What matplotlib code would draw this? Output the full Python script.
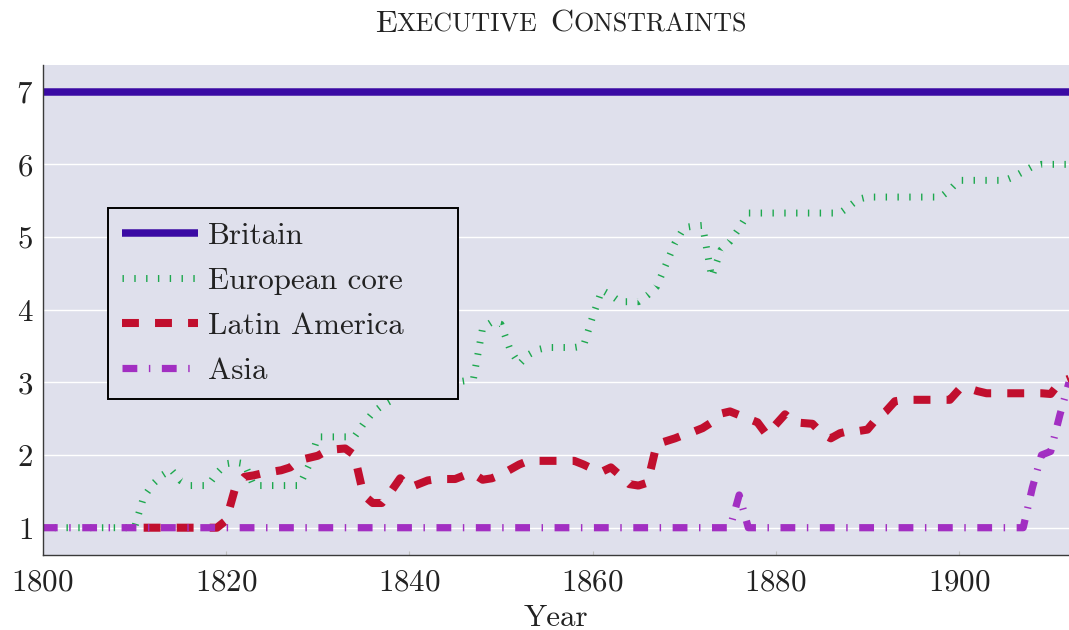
import matplotlib
matplotlib.use("Agg")
import matplotlib.pyplot as plt
from matplotlib.offsetbox import TextArea, HPacker, AnchoredOffsetbox, DrawingArea

plt.rcParams["font.family"] = ["cmr10", "DejaVu Serif"]
plt.rcParams["mathtext.fontset"] = "cm"
plt.rcParams["axes.formatter.use_mathtext"] = True

# ---------------- data ----------------
years = list(range(1800, 1913))

britain = [7.0] * len(years)

european_core = [
    1.0, 1.0, 1.0, 1.0, 1.0, 1.0, 1.0, 1.0, 1.0, 1.0,            # 1800-1809
    1.0, 1.42, 1.6, 1.72, 1.8, 1.65, 1.58, 1.58, 1.58, 1.75,     # 1810-1819
    1.88, 1.9, 1.88, 1.58, 1.58, 1.58, 1.58, 1.58, 1.58, 1.85,   # 1820-1829
    2.25, 2.25, 2.25, 2.25, 2.25, 2.43, 2.58, 2.68, 2.75, 2.85,  # 1830-1839
    3.0, 3.0, 3.0, 3.0, 3.0, 3.0, 3.02, 3.05, 3.75, 3.83,        # 1840-1849
    3.8, 3.45, 3.25, 3.38, 3.45, 3.48, 3.48, 3.48, 3.48, 3.5,    # 1850-1859
    3.9, 4.27, 4.2, 4.11, 4.11, 4.11, 4.2, 4.32, 4.62, 4.92,     # 1860-1869
    5.13, 5.15, 5.16, 4.45, 4.82, 4.94, 5.12, 5.33, 5.33, 5.33,  # 1870-1879
    5.33, 5.33, 5.33, 5.33, 5.33, 5.33, 5.33, 5.33, 5.42, 5.52,  # 1880-1889
    5.55, 5.55, 5.55, 5.55, 5.55, 5.55, 5.55, 5.55, 5.55, 5.65,  # 1890-1899
    5.78, 5.78, 5.78, 5.78, 5.78, 5.78, 5.83, 5.9, 5.97, 6.0,    # 1900-1909
    6.0, 6.0, 6.0,                                               # 1910-1912
]

latin_years = list(range(1811, 1913))
latin_america = [
    1.0, 1.0, 1.0, 1.0, 1.0, 1.0, 1.0, 1.0, 1.0,                 # 1811-1819
    1.1, 1.55, 1.7, 1.72, 1.75, 1.77, 1.79, 1.83, 1.93, 1.96,    # 1820-1829
    1.99, 2.06, 2.08, 2.09, 2.0, 1.45, 1.34, 1.34, 1.5, 1.68,    # 1830-1839
    1.55, 1.6, 1.65, 1.67, 1.67, 1.67, 1.72, 1.74, 1.66, 1.68,   # 1840-1849
    1.73, 1.8, 1.87, 1.92, 1.92, 1.92, 1.92, 1.92, 1.92, 1.87,   # 1850-1859
    1.81, 1.77, 1.83, 1.72, 1.6, 1.58, 1.62, 2.15, 2.19, 2.23,   # 1860-1869
    2.28, 2.32, 2.37, 2.45, 2.57, 2.6, 2.55, 2.5, 2.45, 2.28,    # 1870-1879
    2.42, 2.56, 2.45, 2.44, 2.43, 2.3, 2.23, 2.3, 2.33, 2.33,    # 1880-1889
    2.35, 2.5, 2.6, 2.74, 2.76, 2.76, 2.76, 2.76, 2.76, 2.76,    # 1890-1899
    2.9, 2.92, 2.88, 2.85, 2.85, 2.85, 2.85, 2.85, 2.85, 2.85,   # 1900-1909
    2.84, 3.0, 3.05,                                             # 1910-1912
]

asia = [
    1.0, 1.0, 1.0, 1.0, 1.0, 1.0, 1.0, 1.0, 1.0, 1.0,   # 1800-1809
    1.0, 1.0, 1.0, 1.0, 1.0, 1.0, 1.0, 1.0, 1.0, 1.0,   # 1810-1819
    1.0, 1.0, 1.0, 1.0, 1.0, 1.0, 1.0, 1.0, 1.0, 1.0,   # 1820-1829
    1.0, 1.0, 1.0, 1.0, 1.0, 1.0, 1.0, 1.0, 1.0, 1.0,   # 1830-1839
    1.0, 1.0, 1.0, 1.0, 1.0, 1.0, 1.0, 1.0, 1.0, 1.0,   # 1840-1849
    1.0, 1.0, 1.0, 1.0, 1.0, 1.0, 1.0, 1.0, 1.0, 1.0,   # 1850-1859
    1.0, 1.0, 1.0, 1.0, 1.0, 1.0, 1.0, 1.0, 1.0, 1.0,   # 1860-1869
    1.0, 1.0, 1.0, 1.0, 1.0, 1.0, 1.45, 1.0, 1.0, 1.0,  # 1870-1879
    1.0, 1.0, 1.0, 1.0, 1.0, 1.0, 1.0, 1.0, 1.0, 1.0,   # 1880-1889
    1.0, 1.0, 1.0, 1.0, 1.0, 1.0, 1.0, 1.0, 1.0, 1.0,   # 1890-1899
    1.0, 1.0, 1.0, 1.0, 1.0, 1.0, 1.0, 1.0, 1.55, 2.0,  # 1900-1909
    2.05, 2.55, 3.0,                                    # 1910-1912
]

series_labels = ["Britain", "European core", "Latin America", "Asia"]
x_ticks = [1800, 1820, 1840, 1860, 1880, 1900]
y_ticks = [1, 2, 3, 4, 5, 6, 7]

# ---------------- styling ----------------
BG = "#dfe0ec"
C_BRITAIN = "#3a0aa4"
C_EURO = "#1da84e"
C_LATIN = "#c10f2e"
C_ASIA = "#a22fc2"
FS = 22.3

fig = plt.figure(figsize=(10.69, 6.30), dpi=100)
ax = fig.add_axes([0.0401, 0.119, 0.9599, 0.7778])
ax.set_facecolor(BG)

ax.plot(years, britain, color=C_BRITAIN, lw=5.4, solid_capstyle="butt",
        label=series_labels[0])
ax.plot(years, european_core, color=C_EURO, lw=5.0,
        linestyle=(0, (0.2, 1.5)), dash_capstyle="butt",
        label=series_labels[1])
ax.plot(latin_years, latin_america, color=C_LATIN, lw=5.8,
        linestyle=(0, (2.1, 2.0)), dash_capstyle="butt",
        label=series_labels[2])
ax.plot(years, asia, color=C_ASIA, lw=5.2,
        linestyle=(0, (2.05, 1.6, 0.2, 1.6)), dash_capstyle="butt",
        label=series_labels[3])

ax.set_xlim(1800, 1912)
ax.set_ylim(0.624, 7.367)
ax.set_xticks(x_ticks)
ax.set_yticks(y_ticks)
ax.grid(axis="y", color="white", lw=1.0)
ax.grid(axis="x", visible=False)
ax.set_axisbelow(True)

for side in ("top", "right"):
    ax.spines[side].set_visible(False)
for side in ("left", "bottom"):
    ax.spines[side].set_color("#3a3a3a")
    ax.spines[side].set_linewidth(1.0)

ax.tick_params(axis="x", direction="in", length=3, color="#c0c0c0",
               pad=10, labelsize=FS, labelcolor="#222222")
ax.tick_params(axis="y", length=0, pad=7, labelsize=FS, labelcolor="#222222")

ax.set_xlabel("Year", fontsize=FS, labelpad=5, color="#222222")

leg = ax.legend(loc="upper left", bbox_to_anchor=(0.0634, 0.316, 0.341, 0.392),
                mode="expand", fontsize=FS, handlelength=2.45, handletextpad=0.32,
                borderpad=0.45, labelspacing=0.55, borderaxespad=0,
                fancybox=False, framealpha=1.0, facecolor=BG, edgecolor="black")
leg.get_frame().set_linewidth(1.4)
for t in leg.get_texts():
    t.set_color("#222222")

# title in small capitals
big, small = 23, 18.7
parts = [
    TextArea("E", textprops=dict(fontsize=big, color="#222222")),
    TextArea("XECUTIVE", textprops=dict(fontsize=small, color="#222222")),
    DrawingArea(9.5, 1),
    TextArea("C", textprops=dict(fontsize=big, color="#222222")),
    TextArea("ONSTRAINTS", textprops=dict(fontsize=small, color="#222222")),
]
packer = HPacker(children=parts, align="baseline", pad=0, sep=0)
title_box = AnchoredOffsetbox(loc="center", child=packer, pad=0, borderpad=0,
                              frameon=False,
                              bbox_to_anchor=(561 / 1069, 1 - 24 / 630),
                              bbox_transform=fig.transFigure)
fig.add_artist(title_box)

fig.savefig("out.png", dpi=100)
